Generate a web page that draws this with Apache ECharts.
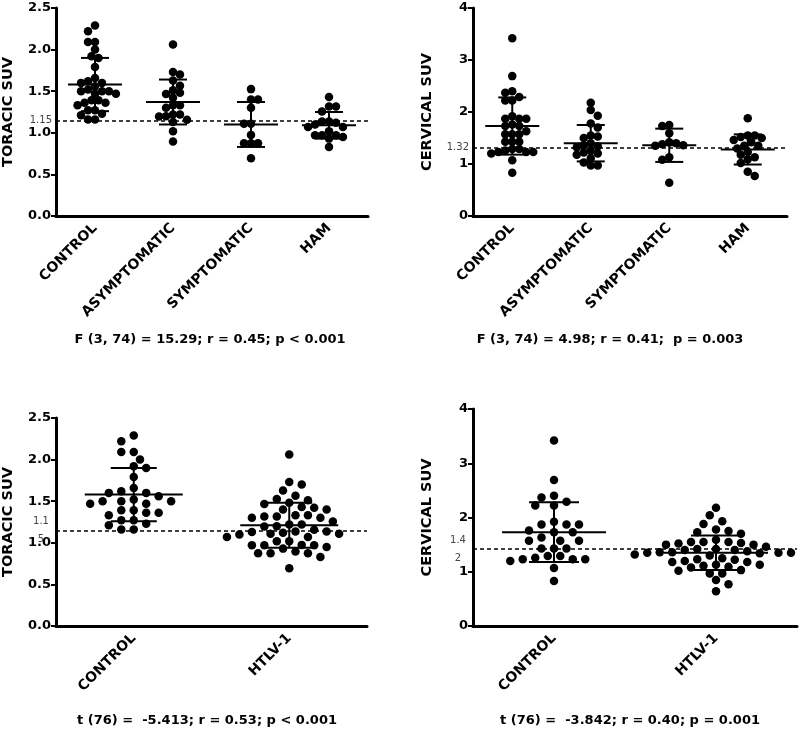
<!DOCTYPE html>
<html>
<head>
<meta charset="utf-8">
<script src="https://cdn.jsdelivr.net/npm/echarts@6/dist/echarts.min.js"></script>
<style>
  html, body { margin: 0; padding: 0; background: #fff; }
  #chart { width: 800px; height: 735px; }
</style>
</head>
<body>
<div id="chart"></div>
<script>
// groups
const groups4 = ["CONTROL", "ASYMPTOMATIC", "SYMPTOMATIC", "HAM"];
const groups2 = ["CONTROL", "HTLV-1"];

// toracic SUV per subject
const toracicControl = [2.29, 2.22, 2.09, 2.09, 2.00, 1.90, 1.92, 1.79, 1.66, 1.60,
  1.56, 1.62, 1.60, 1.47, 1.50, 1.50, 1.50, 1.52, 1.47, 1.39,
  1.36, 1.33, 1.36, 1.39, 1.27, 1.27, 1.21, 1.23, 1.16, 1.16];
const toracicAsym = [2.06, 1.73, 1.70, 1.63, 1.565, 1.48, 1.465, 1.51, 1.42, 1.33,
  1.33, 1.30, 1.22, 1.22, 1.195, 1.20, 1.156, 1.13, 1.02, 0.895];
const toracicSym = [1.525, 1.40, 1.40, 1.30, 1.11, 1.11, 0.975, 0.875, 0.875, 0.875, 0.695];
const toracicHam = [1.43, 1.315, 1.315, 1.255, 1.135, 1.135, 1.12, 1.10, 1.07, 1.07,
  1.02, 0.97, 0.97, 0.97, 0.95, 0.93, 0.83];

// cervical SUV per subject
const cervicalControl = [3.42, 2.69, 2.40, 2.37, 2.29, 2.22, 2.22, 1.87, 1.87, 1.87,
  1.92, 1.73, 1.73, 1.76, 1.63, 1.57, 1.57, 1.57, 1.43, 1.43,
  1.43, 1.29, 1.26, 1.29, 1.23, 1.20, 1.23, 1.23, 1.07, 0.83];
const cervicalAsym = [2.18, 2.04, 1.93, 1.78, 1.70, 1.55, 1.50, 1.53, 1.40, 1.36,
  1.34, 1.32, 1.25, 1.22, 1.20, 1.18, 1.11, 1.03, 0.97, 0.97];
const cervicalSym = [1.75, 1.73, 1.59, 1.42, 1.40, 1.38, 1.36, 1.35, 1.13, 1.08, 0.64];
const cervicalHam = [1.88, 1.55, 1.55, 1.52, 1.50, 1.46, 1.42, 1.35, 1.35, 1.23,
  1.13, 1.09, 1.18, 1.02, 0.77, 0.85, 1.30];

// mean and SD bars as drawn
const toracicMean4 = [1.58, 1.37, 1.10, 1.09];
const toracicSd4 = [0.32, 0.27, 0.27, 0.16];
const cervicalMean4 = [1.73, 1.40, 1.36, 1.28];
const cervicalSd4 = [0.55, 0.35, 0.32, 0.29];
const toracicMean2 = [1.58, 1.21];
const toracicSd2 = [0.32, 0.27];
const cervicalMean2 = [1.73, 1.35];
const cervicalSd2 = [0.55, 0.32];

// reference cut-offs
const cutoffs = [1.15, 1.32, 1.15, 1.42];
const cutoffLabels = ["1.15", "1.32", "1.1\n5", "1.4\n2"];

const statTexts = [
  "F (3, 74) = 15.29; r = 0.45; p < 0.001",
  "F (3, 74) = 4.98; r = 0.41;  p = 0.003",
  "t (76) =  -5.413; r = 0.53; p < 0.001",
  "t (76) =  -3.842; r = 0.40; p = 0.001"
];

const FONT = '"DejaVu Sans", sans-serif';

const panels = [
  { left: 55, top: 8, width: 313, height: 208, cats: groups4, max: 2.5, step: 0.5, name: "TORACIC SUV",
    groups: [toracicControl, toracicAsym, toracicSym, toracicHam], mean: toracicMean4, sd: toracicSd4,
    gap: 7, shift: 3.5, halfMean: 27, halfCap: 14, nameGap: 40 },
  { left: 473, top: 8, width: 314, height: 208, cats: groups4, max: 4, step: 1, name: "CERVICAL SUV",
    groups: [cervicalControl, cervicalAsym, cervicalSym, cervicalHam], mean: cervicalMean4, sd: cervicalSd4,
    gap: 7, shift: 3.5, halfMean: 27, halfCap: 14, nameGap: 38 },
  { left: 55, top: 418, width: 312, height: 208, cats: groups2, max: 2.5, step: 0.5, name: "TORACIC SUV",
    groups: [toracicControl, toracicAsym.concat(toracicSym, toracicHam)], mean: toracicMean2, sd: toracicSd2,
    gap: 9, shift: 6.25, halfMean: 49, halfCap: 23, nameGap: 40 },
  { left: 473, top: 409, width: 324, height: 217, cats: groups2, max: 4, step: 1, name: "CERVICAL SUV",
    groups: [cervicalControl, cervicalAsym.concat(cervicalSym, cervicalHam)], mean: cervicalMean2, sd: cervicalSd2,
    gap: 9, shift: 6.25, halfMean: 52, halfCap: 25, nameGap: 38 }
];

// beeswarm in pixel space: push each dot sideways until it clears the ones already placed
function swarm(values, catIndex, pxPerCat, pxPerVal, gap, shift) {
  const order = values.map((v, k) => k).sort((a, b) => values[b] - values[a]);
  const placed = [];
  const out = [];
  order.forEach((k, n) => {
    const py = values[k] * pxPerVal;
    const sign = n % 2 ? -1 : 1;
    let chosen = 0;
    for (let j = 0; j < 80; j++) {
      const off = j === 0 ? 0 : (j % 2 ? sign : -sign) * Math.ceil(j / 2) * shift;
      if (placed.every(p => Math.hypot(p.x - off, p.y - py) >= gap)) { chosen = off; break; }
    }
    placed.push({ x: chosen, y: py });
    out.push([catIndex + chosen / pxPerCat, values[k]]);
  });
  return out;
}

function errRender(halfMean, halfCap) {
  return function (params, api) {
    const i = api.value(0), m = api.value(1), s = api.value(2);
    const c = api.coord([i, m]);
    const hi = api.coord([i, m + s]);
    const lo = api.coord([i, m - s]);
    const style = { stroke: "#000", lineWidth: 2 };
    return {
      type: "group",
      children: [
        { type: "line", shape: { x1: c[0] - halfMean, y1: c[1], x2: c[0] + halfMean, y2: c[1] }, style },
        { type: "line", shape: { x1: c[0], y1: hi[1], x2: c[0], y2: lo[1] }, style },
        { type: "line", shape: { x1: c[0] - halfCap, y1: hi[1], x2: c[0] + halfCap, y2: hi[1] }, style },
        { type: "line", shape: { x1: c[0] - halfCap, y1: lo[1], x2: c[0] + halfCap, y2: lo[1] }, style }
      ]
    };
  };
}

const grid = [], xAxis = [], yAxis = [], series = [];

panels.forEach((p, g) => {
  const n = p.cats.length;
  grid.push({ left: p.left, top: p.top, width: p.width, height: p.height });

  // category axis for labels and ticks
  xAxis.push({
    type: "category", gridIndex: g, data: p.cats,
    axisLine: { onZero: false, lineStyle: { color: "#000", width: 3 } },
    axisTick: { alignWithLabel: true, length: 6, lineStyle: { color: "#000", width: 2 } },
    axisLabel: { rotate: 45, interval: 0, margin: 10, color: "#000", fontWeight: "bold", fontSize: 14, fontFamily: FONT }
  });
  // hidden value axis for dot positions
  xAxis.push({ type: "value", gridIndex: g, min: -0.5, max: n - 0.5, show: false, axisLine: { onZero: false } });

  yAxis.push({
    type: "value", gridIndex: g, min: 0, max: p.max, interval: p.step,
    name: p.name, nameLocation: "middle", nameGap: p.nameGap,
    nameTextStyle: { color: "#000", fontWeight: "bold", fontSize: 14.5, fontFamily: FONT },
    axisLine: { show: true, onZero: false, lineStyle: { color: "#000", width: 3 } },
    axisTick: { show: true, length: 5, lineStyle: { color: "#000", width: 2 } },
    splitLine: { show: false },
    axisLabel: {
      margin: 5, color: "#000", fontWeight: "bold", fontSize: 13, fontFamily: FONT,
      formatter: v => (p.step < 1 ? v.toFixed(1) : String(v))
    }
  });

  const pxPerCat = p.width / n;
  const pxPerVal = p.height / p.max;
  let pts = [];
  p.groups.forEach((vals, ci) => {
    pts = pts.concat(swarm(vals, ci, pxPerCat, pxPerVal, p.gap, p.shift));
  });

  const twoLine = cutoffLabels[g].indexOf("\n") >= 0;
  series.push({
    type: "scatter", xAxisIndex: 2 * g + 1, yAxisIndex: g,
    symbol: "circle", symbolSize: 8.5,
    itemStyle: { color: "#000", opacity: 1 },
    data: pts, z: 2,
    markLine: {
      silent: true, symbol: ["none", "none"], animation: false,
      lineStyle: { color: "#000", type: [4, 3], width: 1.6 },
      label: {
        show: true, position: "start",
        formatter: cutoffLabels[g],
        color: "#444", fontSize: 10, fontFamily: FONT,
        distance: twoLine ? 15 : 4,
        align: twoLine ? "center" : "right",
        lineHeight: twoLine ? 18 : 12,
        padding: twoLine ? [5, 0, 0, 0] : [0, 0, 8, 0]
      },
      data: [{ yAxis: cutoffs[g] }]
    }
  });

  series.push({
    type: "custom", xAxisIndex: 2 * g + 1, yAxisIndex: g, z: 5,
    renderItem: errRender(p.halfMean, p.halfCap),
    data: p.mean.map((m, i) => [i, m, p.sd[i]])
  });
});

const statPos = [[210, 340], [610, 340], [207, 721], [630, 721]];

const chart = echarts.init(document.getElementById("chart"));
chart.setOption({
  animation: false,
  backgroundColor: "#fff",
  grid, xAxis, yAxis, series,
  graphic: statTexts.map((t, i) => ({
    type: "text", x: statPos[i][0], y: statPos[i][1],
    style: {
      text: t, fill: "#000", fontSize: 13, fontWeight: "bold", fontFamily: FONT,
      align: "center", verticalAlign: "middle"
    }
  }))
});
</script>
</body>
</html>
